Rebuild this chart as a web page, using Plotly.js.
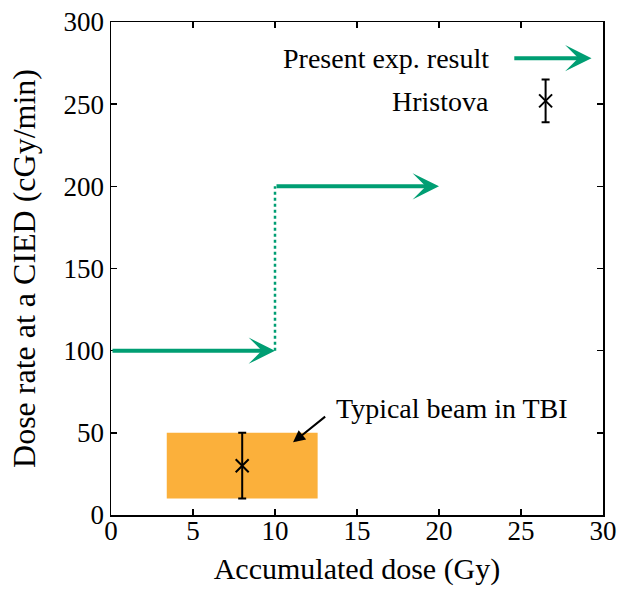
<!DOCTYPE html>
<html>
<head>
<meta charset="utf-8">
<script src="https://cdn.plot.ly/plotly-3.0.1.min.js"></script>
<style>html,body{margin:0;padding:0;background:#fff;}#chart{width:622px;height:590px;}</style>
</head>
<body>
<div id="chart"></div>
<script>
// Present experimental result: step segments (start x, end x, dose rate)
const presentStartX = [0, 10];
const presentEndX = [10, 20];
const presentRate = [100, 200];
// Dotted connector between steps
const stepX = [10, 10];
const stepY = [100, 200];
// Hristova point
const hristovaX = [26.5];
const hristovaY = [252];
const hristovaErr = [13];
// Typical beam in TBI: box range and central point
const tbiBoxX = [3.4, 12.6];
const tbiBoxY = [10, 50];
const tbiX = [8];
const tbiY = [30];
const tbiErr = [20];
// Labels
const legendPresent = "Present exp. result";
const legendHristova = "Hristova";
const tbiLabel = "Typical beam in TBI";
const xTicks = [0, 5, 10, 15, 20, 25, 30];
const yTicks = [0, 50, 100, 150, 200, 250, 300];

const green = "#009E73";
const orange = "#FBB03B";
const fontFam = "Liberation Serif, Times New Roman, serif";

const traces = [
  {
    x: [tbiBoxX[0], tbiBoxX[1], tbiBoxX[1], tbiBoxX[0], tbiBoxX[0]],
    y: [tbiBoxY[0], tbiBoxY[0], tbiBoxY[1], tbiBoxY[1], tbiBoxY[0]],
    type: "scatter", mode: "lines", fill: "toself",
    fillcolor: orange, line: {width: 0, color: orange}, hoverinfo: "skip"
  },
  {
    x: stepX, y: stepY, type: "scatter", mode: "lines",
    line: {color: green, width: 2.5, dash: "dot"}
  },
  {
    x: tbiX, y: tbiY, type: "scatter", mode: "markers",
    marker: {symbol: "x-thin-open", size: 13, line: {color: "#000", width: 2}, color: "#000"},
    error_y: {type: "data", array: tbiErr, visible: true, color: "#000", thickness: 2, width: 4}
  },
  {
    x: hristovaX, y: hristovaY, type: "scatter", mode: "markers",
    marker: {symbol: "x-thin-open", size: 13, line: {color: "#000", width: 2}, color: "#000"},
    error_y: {type: "data", array: hristovaErr, visible: true, color: "#000", thickness: 2, width: 4}
  }
];

const annotations = [];
// Step arrows
for (let i = 0; i < presentStartX.length; i++) {
  annotations.push({
    x: presentEndX[i], y: presentRate[i], ax: presentStartX[i], ay: presentRate[i],
    xref: "x", yref: "y", axref: "x", ayref: "y",
    text: "", showarrow: true, arrowhead: 3, arrowsize: 1.1, arrowwidth: 4,
    arrowcolor: green, standoff: 0, startstandoff: 0
  });
}
// Legend entries
annotations.push({
  x: 29.3, y: 278, ax: 24.5, ay: 278,
  xref: "x", yref: "y", axref: "x", ayref: "y",
  text: "", showarrow: true, arrowhead: 3, arrowsize: 1.1, arrowwidth: 4,
  arrowcolor: green, standoff: 0
});
annotations.push({
  x: 23.2, y: 278, xref: "x", yref: "y", text: legendPresent, showarrow: false,
  xanchor: "right", yanchor: "middle", font: {family: fontFam, size: 28, color: "#000"}
});
annotations.push({
  x: 23.2, y: 251.5, xref: "x", yref: "y", text: legendHristova, showarrow: false,
  xanchor: "right", yanchor: "middle", font: {family: fontFam, size: 28, color: "#000"}
});
// TBI label and arrow
annotations.push({
  x: 11.1, y: 44.2, ax: 13.15, ay: 60.6,
  xref: "x", yref: "y", axref: "x", ayref: "y",
  text: "", showarrow: true, arrowhead: 2, arrowsize: 1.2, arrowwidth: 2,
  arrowcolor: "#000", standoff: 0
});
annotations.push({
  x: 13.6, y: 65, xref: "x", yref: "y", text: tbiLabel, showarrow: false,
  xanchor: "left", yanchor: "middle", font: {family: fontFam, size: 28, color: "#000"}
});

const axisCommon = {
  showline: true, linecolor: "#000", linewidth: 1.5, mirror: "ticks",
  ticks: "inside", ticklen: 6, tickwidth: 1.5, tickcolor: "#000",
  showgrid: false, zeroline: false,
  tickfont: {family: fontFam, size: 27, color: "#000"}
};

const layout = {
  width: 622, height: 590,
  margin: {l: 111, r: 19, t: 22, b: 75},
  paper_bgcolor: "#fff", plot_bgcolor: "#fff",
  showlegend: false,
  xaxis: Object.assign({}, axisCommon, {
    range: [0, 30], tickvals: xTicks, ticktext: xTicks.map(String),
    ticklabelstandoff: -9,
    title: {text: "Accumulated dose (Gy)", font: {family: fontFam, size: 30, color: "#000"}, standoff: 13}
  }),
  yaxis: Object.assign({}, axisCommon, {
    range: [0, 300], tickvals: yTicks, ticktext: yTicks.map(String),
    title: {text: "Dose rate at a CIED (cGy/min)", font: {family: fontFam, size: 32, color: "#000"}, standoff: 18}
  }),
  annotations: annotations
};

Plotly.newPlot("chart", traces, layout, {staticPlot: true, displayModeBar: false});
</script>
</body>
</html>
